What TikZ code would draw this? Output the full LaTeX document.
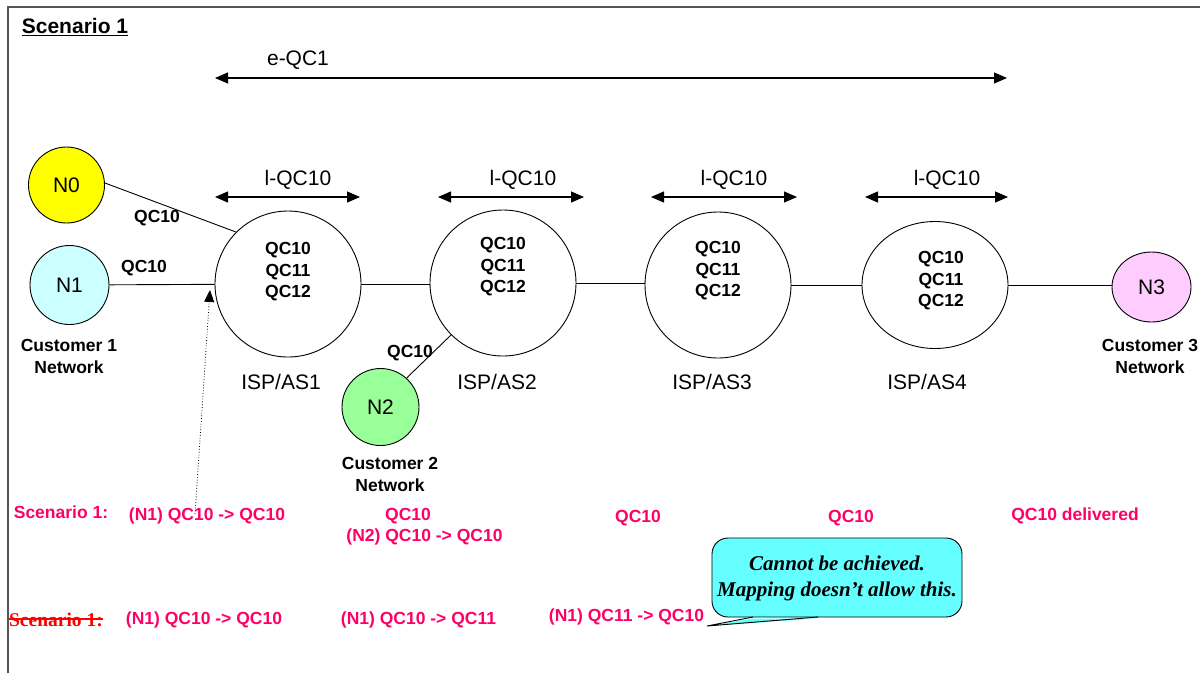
\documentclass[tikz,border=0pt]{standalone}
\usepackage{fontspec}
\setmainfont{Liberation Sans}
\newfontfamily\timesfont{Liberation Serif}
\usetikzlibrary{arrows.meta,shapes.geometric}
\definecolor{alertred}{HTML}{FF0066}
\definecolor{pureRed}{HTML}{FF0000}
\definecolor{nodeYellow}{HTML}{FFFF00}
\definecolor{nodeCyan}{HTML}{CCFFFF}
\definecolor{nodeGreen}{HTML}{99FF99}
\definecolor{nodePink}{HTML}{FFCCFF}
\definecolor{calloutCyan}{HTML}{66FFFF}
\definecolor{frameGray}{HTML}{555555}
\begin{document}
\begin{tikzpicture}[x=1pt,y=-1pt,
  plain/.style={font=\fontsize{21}{25}\selectfont, inner sep=0pt},
  boldlbl/.style={font=\fontsize{17.5}{21.5}\selectfont\bfseries, inner sep=0pt, align=center},
  redlbl/.style={font=\fontsize{17.5}{21.5}\selectfont\bfseries, text=alertred, inner sep=0pt},
  isp/.style={draw, circle, minimum size=146pt, inner sep=0pt, line width=0.9pt},
  cust/.style={draw, circle, minimum size=78pt, inner sep=0pt, line width=0.9pt,
               font=\fontsize{21}{25}\selectfont},
  link/.style={line width=0.9pt},
  span/.style={line width=1.1pt, {Triangle[length=13pt,width=11pt]}-{Triangle[length=13pt,width=11pt]}},
]
\useasboundingbox (0,0) rectangle (1200,673);

% frame
\draw[frameGray, line width=2pt] (8,673) -- (8,7) -- (1200,7);

% title
\node[font=\fontsize{21}{25}\selectfont\bfseries, inner sep=0pt] (title) at (75,27) {\underline{Scenario 1}};

% end-to-end span
\coordinate (eL) at (215,78);
\coordinate (eR) at (1007,78);
\draw[span] (eL) -- (eR);
\node[plain] (eqc) at (298,60) {e-QC1};

% ISP / AS domains
\node[isp] (AS1) at (288,284) {};
\node[isp] (AS2) at (503,283) {};
\node[isp] (AS3) at (718,285) {};
\node[isp, ellipse, minimum width=146pt, minimum height=127pt] (AS4) at (935,285) {};

\node[boldlbl] (AS1q) at (288,272) {QC10\\QC11\\QC12};
\node[boldlbl] (AS2q) at (503,267) {QC10\\QC11\\QC12};
\node[boldlbl] (AS3q) at (718,271) {QC10\\QC11\\QC12};
\node[boldlbl] (AS4q) at (941,281) {QC10\\QC11\\QC12};

\node[plain] (AS1n) at (281,382) {ISP/AS1};
\node[plain] (AS2n) at (497,382) {ISP/AS2};
\node[plain] (AS3n) at (712,382) {ISP/AS3};
\node[plain] (AS4n) at (927,382) {ISP/AS4};

% local spans
\coordinate (l1L) at (215,197); \coordinate (l1R) at (360,197);
\coordinate (l2L) at (438,197); \coordinate (l2R) at (584,197);
\coordinate (l3L) at (651,197); \coordinate (l3R) at (797,197);
\coordinate (l4L) at (865,197); \coordinate (l4R) at (1008,197);
\draw[span] (l1L) -- (l1R);
\draw[span] (l2L) -- (l2R);
\draw[span] (l3L) -- (l3R);
\draw[span] (l4L) -- (l4R);
\node[plain] (lq1) at (298,180) {l-QC10};
\node[plain] (lq2) at (523,180) {l-QC10};
\node[plain] (lq3) at (734,180) {l-QC10};
\node[plain] (lq4) at (947,180) {l-QC10};

% customer networks
\node[cust, fill=nodeYellow, minimum size=76pt] (N0) at (66.5,185) {N0};
\node[cust, fill=nodeCyan, minimum size=79pt] (N1) at (69.5,285) {N1};
\node[cust, fill=nodeGreen, minimum size=77pt] (N2) at (380.5,407) {N2};
\node[cust, fill=nodePink, ellipse, minimum width=79pt, minimum height=70pt] (N3) at (1151.5,287) {N3};

\node[boldlbl] (C1) at (69,356.5) {Customer 1\\Network};
\node[boldlbl] (C2) at (390,474.5) {Customer 2\\Network};
\node[boldlbl] (C3) at (1150,356.5) {Customer 3\\Network};

% links
\draw[link] (N0.3) -- (AS1.135);
\draw[link] (N1) -- (AS1);
\draw[link] (AS1.east) -- (AS1.east -| AS2.west);
\draw[link] (AS2.east) -- (AS2.east -| AS3.west);
\draw[link] (AS3.east) -- (AS3.east -| AS4.west);
\draw[link] (AS4.east) -- (AS4.east -| N3.west);
\draw[link] (AS2.225) -- (N2.48);

\node[boldlbl] (q0) at (157,218) {QC10};
\node[boldlbl] (q1) at (144,268) {QC10};
\node[boldlbl] (q2) at (410,353) {QC10};

% marker from scenario row to ingress point
\coordinate (dotFoot) at (195,514);
\coordinate (dotTip) at (210,290);
\draw[dotted, line width=0.8pt, -{Triangle[length=12pt,width=10pt]}] (dotFoot) -- (dotTip);

% scenario row (valid)
\node[redlbl] (s1) at (61,512) {Scenario 1:};
\node[redlbl] (s1a) at (207,516) {(N1) QC10 -> QC10};
\node[redlbl] (s1b) at (408,516) {QC10};
\node[redlbl] (s1c) at (424.5,537) {(N2) QC10 -> QC10};
\node[redlbl] (s1d) at (638,518) {QC10};
\node[redlbl] (s1e) at (851,518) {QC10};
\node[redlbl] (s1f) at (1075,516) {QC10 delivered};

% scenario row (struck out)
\node[font=\fontsize{19.5}{23}\selectfont\timesfont\bfseries, text=pureRed, inner sep=0pt] (s2) at (56,620) {Scenario 1:};
\draw[pureRed, line width=1.6pt] ([yshift=1pt]s2.west) -- ([yshift=1pt]s2.east);
\node[redlbl] (s2a) at (204,620) {(N1) QC10 -> QC10};
\node[redlbl] (s2b) at (418.5,620) {(N1) QC10 -> QC11};
\node[redlbl] (s2c) at (626.5,617) {(N1) QC11 -> QC10};

% callout
\node[draw, fill=calloutCyan, rounded corners=16pt, minimum width=250pt, minimum height=79pt,
      inner sep=0pt, line width=0.9pt] (note) at (837,577.5) {};
\node[font=\fontsize{21}{26}\selectfont\timesfont\bfseries\itshape, align=center, inner sep=0pt]
      (noteText) at (837,578) {Cannot be achieved.\\Mapping doesn’t allow this.};
\coordinate (tailA) at (753,617);
\coordinate (tailB) at (818,617);
\coordinate (tailTip) at (707,626);
\fill[calloutCyan] ([yshift=-1.5pt]tailA) -- (tailTip) -- ([yshift=-1.5pt]tailB) -- cycle;
\draw[line width=0.9pt] (tailA) -- (tailTip) -- (tailB);
\end{tikzpicture}
\end{document}
